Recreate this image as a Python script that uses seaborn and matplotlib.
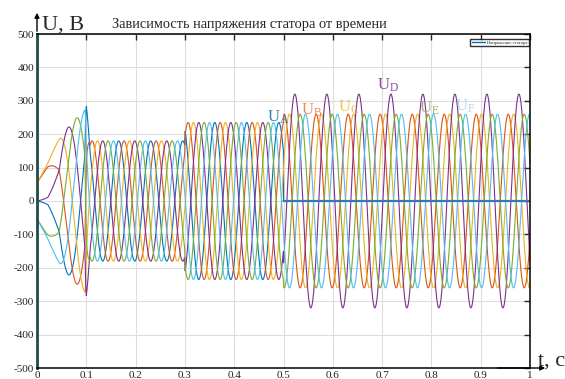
import numpy as np
import pandas as pd
import matplotlib
matplotlib.use("Agg")
import matplotlib.pyplot as plt
import seaborn as sns
from matplotlib.lines import Line2D

# six stator phases, MATLAB default colours
phases = ["A", "B", "C", "D", "E", "F"]
phase_colors = ["#0072BD", "#D95319", "#EDB120", "#7E2F8E", "#77AC30", "#4DBEEE"]
phase_shift_deg = [270, -30, 30, 90, 150, 210]
# amplitude factor of each phase after t = 0.5 s (phase A lost, D grows to ~320 V)
late_scale = [0.0, 1.0, 1.0, 320 / 260, 1.0, 1.0]

# envelope of the phase voltage (s, V)
env_t = [0, 0.022, 0.045, 0.063, 0.08, 0.097, 0.1, 0.108, 0.2995, 0.3005, 0.4995, 0.5005, 1.0]
env_v = [62, 125, 185, 220, 248, 272, 284, 180, 180, 235, 235, 260, 260]

# electrical angle during start-up (s, deg), then steady frequency
start_t = [0, 0.022, 0.045, 0.063, 0.08, 0.097, 0.1]
start_angle = [0, 5, 30, 90, 150, 210, 265]
freq_hz = 15.4

# phase labels on the plot
label_text = [r"$\mathrm{U_A}$", r"$\mathrm{U_B}$", r"$\mathrm{U_C}$",
              r"$\mathrm{U_D}$", r"$\mathrm{U_E}$", r"$\mathrm{U_F}$"]
label_t = [0.49, 0.557, 0.633, 0.713, 0.796, 0.869]
label_v = [250, 272, 280, 345, 278, 283]
label_colors = ["#2c7fbf", "#ec8a55", "#f5c23c", "#8c45a0", "#a3ad7c", "#aad7ea"]

t = np.linspace(0, 1, 5001)
angle = np.where(t <= 0.1, np.interp(t, start_t, start_angle),
                 start_angle[-1] + 360 * freq_hz * (t - 0.1))
env = np.interp(t, env_t, env_v)

frames = []
for name, shift, scale in zip(phases, phase_shift_deg, late_scale):
    k = np.where(t >= 0.5, scale, 1.0)
    v = env * k * np.cos(np.radians(angle - shift))
    frames.append(pd.DataFrame({"t": t, "u": v, "phase": name}))
df = pd.concat(frames, ignore_index=True)

sns.set_theme(style="white")
plt.rcParams["font.family"] = ["Liberation Serif", "DejaVu Serif"]
plt.rcParams["mathtext.fontset"] = "custom"
plt.rcParams["mathtext.rm"] = "Liberation Serif"
plt.rcParams["axes.unicode_minus"] = False

fig = plt.figure(figsize=(5.65, 3.79), dpi=100)
ax = fig.add_axes([37 / 565, 11 / 379, 493 / 565, 334 / 379])

sns.lineplot(data=df, x="t", y="u", hue="phase", palette=dict(zip(phases, phase_colors)),
             estimator=None, errorbar=None, sort=False, linewidth=0.8, legend=False, ax=ax)
# the lost phase A after 0.5 s shows as a heavier flat line
lost = df[(df["phase"] == "A") & (df["t"] >= 0.5)]
sns.lineplot(data=lost, x="t", y="u", color="#3579b1", linewidth=1.6,
             estimator=None, errorbar=None, sort=False, ax=ax)

ax.set_xlim(0, 1)
ax.set_ylim(-500, 500)
ax.set_xticks(np.arange(0, 1.01, 0.1))
ax.set_xticklabels([f"{v:g}" for v in np.arange(0, 1.01, 0.1).round(1)])
ax.set_yticks(np.arange(-500, 501, 100))
ax.set_xlabel("")
ax.set_ylabel("")
ax.grid(True, color="#dddddd", linewidth=0.8)
ax.tick_params(direction="in", top=True, right=True, length=4, width=1,
               labelsize=8, labelcolor="#222222", pad=2)
for side in ["top", "right", "bottom"]:
    ax.spines[side].set_color("black")
    ax.spines[side].set_linewidth(1.1)
ax.spines["left"].set_color("#1f4d49")
ax.spines["left"].set_linewidth(2)

for txt, x, y, c in zip(label_text, label_t, label_v, label_colors):
    ax.text(x, y, txt, color=c, fontsize=12, ha="center", va="center")

ax.legend(handles=[Line2D([], [], color=phase_colors[0], lw=1.0)],
          labels=["Напряжение статора"], loc="upper right",
          bbox_to_anchor=(0.997, 0.985), borderaxespad=0, fontsize=3.3,
          frameon=True, fancybox=False, edgecolor="black", handlelength=2.8,
          handletextpad=0.4, borderpad=0.35)

# axis arrows and names
fig.add_artist(matplotlib.patches.FancyArrowPatch(
    (37 / 565, 1 - 34 / 379), (37 / 565, 1 - 10 / 379), transform=fig.transFigure,
    arrowstyle="-|>", mutation_scale=7, color="black", lw=1))
fig.add_artist(matplotlib.patches.FancyArrowPatch(
    (495 / 565, 11 / 379), (548 / 565, 11 / 379), transform=fig.transFigure,
    arrowstyle="-|>", mutation_scale=7, color="black", lw=1))
fig.text(42 / 565, 1 - 30 / 379, "U, B", fontsize=16, ha="left", va="baseline")
fig.text(538 / 565, 1 - 366 / 379, "t, c", fontsize=16, ha="left", va="baseline")
fig.text(112 / 565, 1 - 28 / 379, "Зависимость напряжения статора от времени",
         fontsize=10.4, ha="left", va="baseline")

fig.savefig("out.png", dpi=100)
